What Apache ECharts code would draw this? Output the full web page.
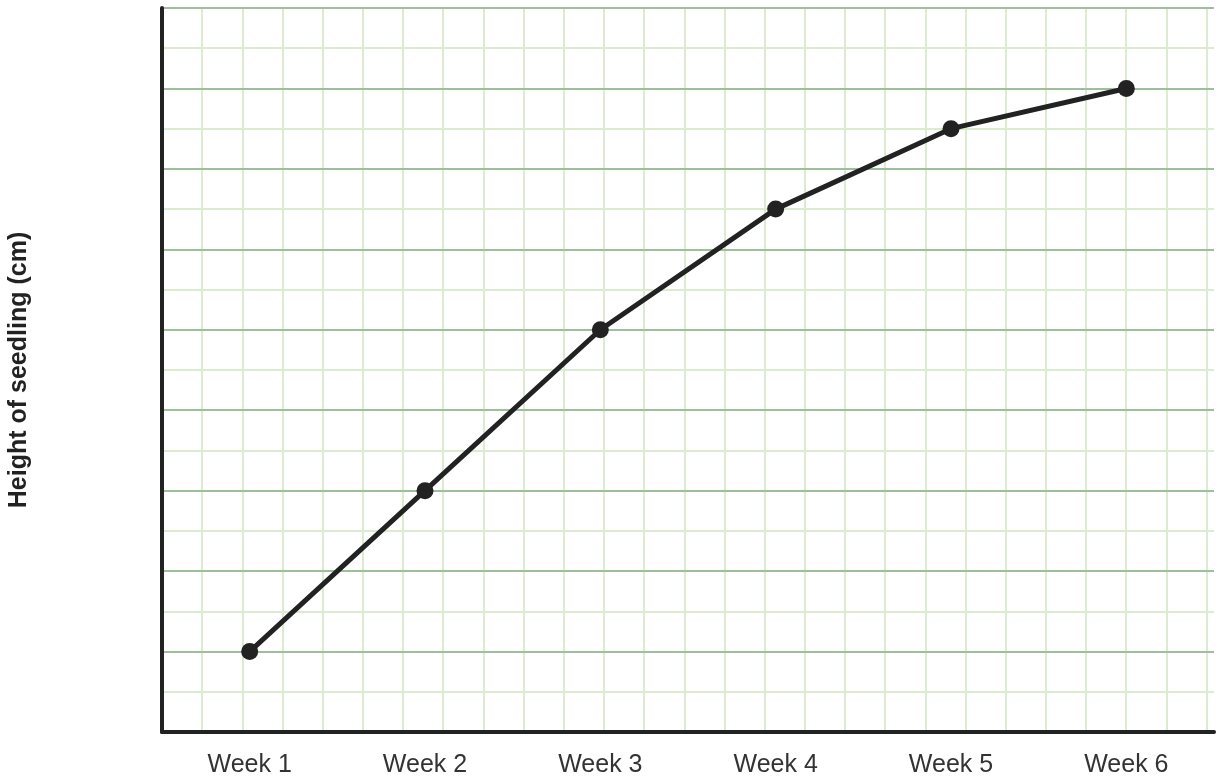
<!DOCTYPE html>
<html>
<head>
<meta charset="utf-8">
<script src="https://cdn.jsdelivr.net/npm/echarts@6/dist/echarts.min.js"></script>
<style>html,body{margin:0;padding:0;background:#fff}#c{width:1220px;height:778px}</style>
</head>
<body>
<div id="c"></div>
<script>
const categories = ['Week 1', 'Week 2', 'Week 3', 'Week 4', 'Week 5', 'Week 6'];
const heights = [1, 3, 5, 6.5, 7.5, 8];
const yAxisTitle = 'Height of seedling (cm)';

const chart = echarts.init(document.getElementById('c'), null, {renderer: 'canvas'});
chart.setOption({
  animation: false,
  grid: [
    {left: 162, top: 8, width: 1052, height: 724, outerBoundsMode: 'none', containLabel: false},
    {left: 162, top: 8, width: 1044.5, height: 724, outerBoundsMode: 'none', containLabel: false}
  ],
  xAxis: [
    {
      type: 'category', gridIndex: 0, data: categories, boundaryGap: true,
      axisLine: {show: true, lineStyle: {color: '#222', width: 4}},
      axisTick: {show: false},
      axisLabel: {color: '#333', fontSize: 25, fontFamily: 'Liberation Sans, Arial, sans-serif', margin: 21},
      splitLine: {show: false}, z: 5
    },
    {
      type: 'value', gridIndex: 1, min: 0, max: 26, interval: 1,
      axisLine: {show: false}, axisTick: {show: false}, axisLabel: {show: false},
      splitLine: {show: true, lineStyle: {color: '#dcebd0', width: 2}}
    }
  ],
  yAxis: [
    {
      type: 'value', gridIndex: 0, min: 0, max: 9, interval: 1,
      name: yAxisTitle, nameLocation: 'middle', nameGap: 130,
      nameTextStyle: {color: '#222', fontSize: 25, fontWeight: 'bold', fontFamily: 'Liberation Sans, Arial, sans-serif'},
      axisLine: {show: true, lineStyle: {color: '#222', width: 4}},
      axisTick: {show: false}, axisLabel: {show: false},
      splitLine: {show: true, lineStyle: {color: '#9dbf99', width: 2}},
      minorTick: {show: false, splitNumber: 2},
      minorSplitLine: {show: true, lineStyle: {color: '#dcebd0', width: 2}},
      z: 5
    },
    {
      type: 'value', gridIndex: 1, min: 0, max: 9, show: false,
      splitLine: {show: false}
    }
  ],
  series: [{
    type: 'line', xAxisIndex: 0, yAxisIndex: 0, data: heights,
    symbol: 'circle', symbolSize: 17,
    lineStyle: {color: '#222', width: 5},
    itemStyle: {color: '#222'},
    z: 10
  }]
});
</script>
</body>
</html>
